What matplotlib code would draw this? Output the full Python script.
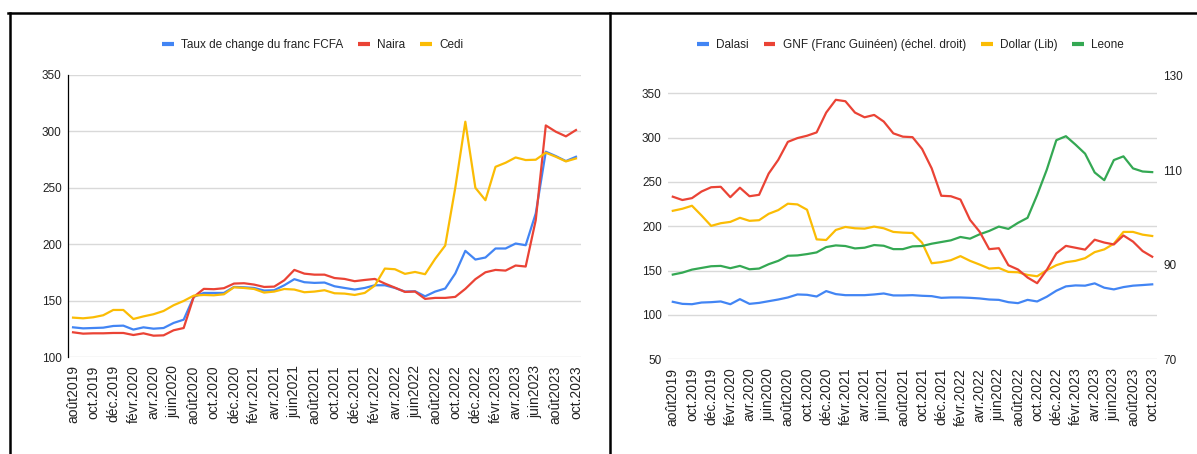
import matplotlib
matplotlib.use('Agg')
import matplotlib.pyplot as plt
from matplotlib import font_manager
from matplotlib.lines import Line2D
import numpy as np

# __ données (indices 2019 = 100 environ) __
etiquettes = ['août2019', 'oct.2019', 'déc.2019', 'févr.2020', 'avr.2020', 'juin2020',
              'août2020', 'oct.2020', 'déc.2020', 'févr.2021', 'avr.2021', 'juin2021',
              'août2021', 'oct.2021', 'déc.2021', 'févr.2022', 'avr.2022', 'juin2022',
              'août2022', 'oct.2022', 'déc.2022', 'févr.2023', 'avr.2023', 'juin2023',
              'août2023', 'oct.2023']

fcfa = [126.3, 125.4, 125.7, 126, 127.5, 127.8, 124.3, 126.3, 125.1, 125.7, 130.2, 133.1,
        153.3, 156.8, 156.8, 156.8, 162.1, 161.8, 161.2, 158.9, 159.2, 163.6, 169, 166.3,
        165.7, 166, 162.7, 161.2, 159.8, 161.2, 163.6, 163.6, 161.2, 158, 158.3, 153.8,
        158, 160.7, 174, 194.1, 186.4, 188.2, 196.2, 196.2, 200.6, 199.1, 227.2, 282,
        278.1, 273.7, 277.5]
naira = [121.9, 120.7, 121, 121, 121.3, 121.3, 119.5, 121, 118.9, 119.2, 123.7, 125.7,
         153.3, 160.4, 160.1, 161, 165.1, 165.4, 164.2, 162.1, 162.4, 168, 177.2, 173.9,
         173, 173, 170, 169.2, 167.2, 168.3, 169.2, 165.1, 161.5, 157.7, 158, 151.5,
         152.4, 152.4, 153.3, 160.4, 169, 175.1, 177.2, 176.6, 181.1, 180.2, 221.3, 305.3,
         299.7, 295.6, 301.2]
cedi = [134.9, 134.3, 135.2, 137, 141.7, 141.7, 133.7, 136, 137.9, 140.8, 145.9, 149.7,
        154.4, 155, 154.7, 155.6, 161.8, 161.2, 160.3, 157.1, 158, 160.3, 159.8, 157.4,
        158, 159.2, 156.5, 156.2, 155, 156.8, 163.3, 178.4, 177.8, 173.7, 175.4, 173.4,
        187, 198.8, 250, 308.6, 250, 239, 268.6, 272.2, 276.9, 274.6, 274.9, 281.1,
        277.5, 273.4, 276]

dalasi = [114.8, 112.5, 112.1, 114, 114.4, 115.2, 112.1, 117.8, 112.5, 113.6, 115.5, 117.4,
          119.7, 123.1, 122.7, 120.8, 126.9, 123.5, 122.3, 122.3, 122.3, 123.1, 124.2, 122,
          122, 122.3, 121.6, 121.2, 119.3, 119.7, 119.7, 119.3, 118.6, 117.4, 117, 114.4,
          113.3, 117, 115.2, 120.5, 127.3, 132.2, 133.3, 133, 135.6, 130.7, 128.8, 131.4,
          133, 133.7, 134.5]
gnf = [104.4, 103.7, 104.1, 105.5, 106.4, 106.5, 104.3, 106.3, 104.5, 104.8, 109.3, 112.2,
       116, 116.8, 117.3, 118, 122.2, 124.9, 124.6, 122.2, 121.2, 121.7, 120.3, 117.8,
       117.1, 117, 114.5, 110.4, 104.6, 104.5, 103.8, 99.5, 97, 93.3, 93.5, 89.9,
       89, 87.3, 86.1, 88.9, 92.4, 94, 93.6, 93.2, 95.3, 94.7, 94.3, 96.2,
       94.9, 92.9, 91.7]
dollar_lib = [217.4, 219.7, 223.1, 212.1, 200.4, 203.4, 204.9, 209.5, 206.1, 206.8, 214, 218.2,
              225.4, 224.6, 218.6, 185.2, 184.5, 195.8, 199.2, 197.7, 197.3, 199.6, 197.7, 193.6,
              192.8, 192.4, 181.4, 158.3, 159.5, 161.7, 166.3, 161, 156.8, 152.3, 153, 148.5,
              148.1, 145.1, 143.6, 150.4, 156.1, 159.5, 161, 164, 170.8, 173.9, 180.3, 193.6,
              193.6, 190.5, 189]
leone = [145.5, 147.7, 151.1, 153, 154.9, 155.3, 152.7, 155.3, 151.5, 152.3, 157.2, 161,
         166.7, 167.1, 168.6, 170.5, 176.5, 178.4, 177.7, 175, 175.8, 178.8, 178, 174.2,
         174.2, 177.3, 177.7, 180.3, 182.2, 184.1, 187.9, 186, 190.9, 194.7, 199.6, 197,
         203.8, 209.5, 235.2, 263.6, 297, 301.5, 292, 281.8, 260.6, 251.9, 274.6, 278.8,
         265.2, 261.7, 261]

BLEU = '#4285F4'
ROUGE = '#EA4335'
JAUNE = '#FBBC04'
VERT = '#34A853'
GRILLE = '#d9d9d9'
TEXTE = '#222222'

# __ polices : étroite pour le texte horizontal si dispo __
noms = {f.name for f in font_manager.fontManager.ttflist}
if 'Liberation Sans Narrow' in noms:
    police_h, taille_h = 'Liberation Sans Narrow', 10
else:
    police_h, taille_h = 'Liberation Sans', 8.5
police_v = 'Liberation Sans'
plt.rcParams['font.family'] = [police_v, 'DejaVu Sans']

W, H = 1197, 454
fig = plt.figure(figsize=(W / 100, H / 100), dpi=100)


def rect(x0, y0, x1, y1):
    # pixels (depuis le haut) -> fraction de figure
    return [x0 / W, 1 - y1 / H, (x1 - x0) / W, (y1 - y0) / H]


x = np.arange(len(fcfa))


def habiller(ax, yticks):
    ax.set_xlim(-0.5, len(x) - 0.5)
    ax.set_xticks(x[::2])
    ax.set_xticklabels(etiquettes, rotation=90, fontsize=10, family=police_v)
    ax.set_yticks(yticks)
    ax.set_yticklabels([str(v) for v in yticks], fontsize=taille_h, family=police_h, color=TEXTE)
    ax.tick_params(axis='both', length=0)
    ax.tick_params(axis='x', pad=6, colors=TEXTE)
    ax.tick_params(axis='y', pad=4.5)
    ax.grid(axis='y', color=GRILLE, lw=1)
    ax.set_axisbelow(True)
    for s in ax.spines.values():
        s.set_visible(False)


def legende(ax, couleurs, textes, cx):
    poignees = [Line2D([], [], color=c, lw=3, solid_capstyle='butt') for c in couleurs]
    ax.legend(poignees, textes, loc='center', bbox_to_anchor=(cx / W, 1 - 45 / H),
              bbox_transform=fig.transFigure, ncol=len(textes), frameon=False,
              prop={'family': police_h, 'size': taille_h}, handlelength=1.0,
              handletextpad=0.6, columnspacing=1.27, labelcolor=TEXTE)


# __ graphique de gauche __
ax1 = fig.add_axes(rect(68, 75, 581, 357))
ax1.plot(x, fcfa, color=BLEU, lw=1.6)
ax1.plot(x, naira, color=ROUGE, lw=1.6)
ax1.plot(x, cedi, color=JAUNE, lw=1.6)
ax1.set_ylim(100, 350)
habiller(ax1, [100, 150, 200, 250, 300, 350])
ax1.spines['left'].set_visible(True)
ax1.spines['left'].set_color('black')
ax1.spines['left'].set_linewidth(0.9)
legende(ax1, [BLEU, ROUGE, JAUNE], ['Taux de change du franc FCFA', 'Naira', 'Cedi'], 312.5)

# __ graphique de droite __
ax2 = fig.add_axes(rect(668, 75.7, 1157, 359.3))
ax2.plot(x, dalasi, color=BLEU, lw=1.6)
ax2.plot(x, dollar_lib, color=JAUNE, lw=1.6, zorder=3)
ax2.plot(x, leone, color=VERT, lw=1.6, zorder=4)
ax2.set_ylim(50, 369.7)
habiller(ax2, [50, 100, 150, 200, 250, 300, 350])

ax3 = ax2.twinx()
ax3.plot(x, gnf, color=ROUGE, lw=1.6)
ax3.set_ylim(70, 130)
ax3.set_yticks([70, 90, 110, 130])
ax3.set_yticklabels(['70', '90', '110', '130'], fontsize=taille_h, family=police_h, color=TEXTE)
ax3.tick_params(axis='y', length=0, pad=4.5)
for s in ax3.spines.values():
    s.set_visible(False)
legende(ax3, [BLEU, ROUGE, JAUNE, VERT],
        ['Dalasi', 'GNF (Franc Guinéen) (échel. droit)', 'Dollar (Lib)', 'Leone'], 910.5)

# __ cadres noirs __
haut = 1 - 13.3 / H
fig.add_artist(Line2D([8.3 / W, 1], [haut, haut], color='black', lw=1.8, transform=fig.transFigure))
fig.add_artist(Line2D([9.5 / W, 9.5 / W], [0, haut], color='black', lw=1.8, transform=fig.transFigure))
fig.add_artist(Line2D([609.5 / W, 609.5 / W], [0, haut], color='black', lw=1.8, transform=fig.transFigure))

fig.savefig('out.png', dpi=100)
